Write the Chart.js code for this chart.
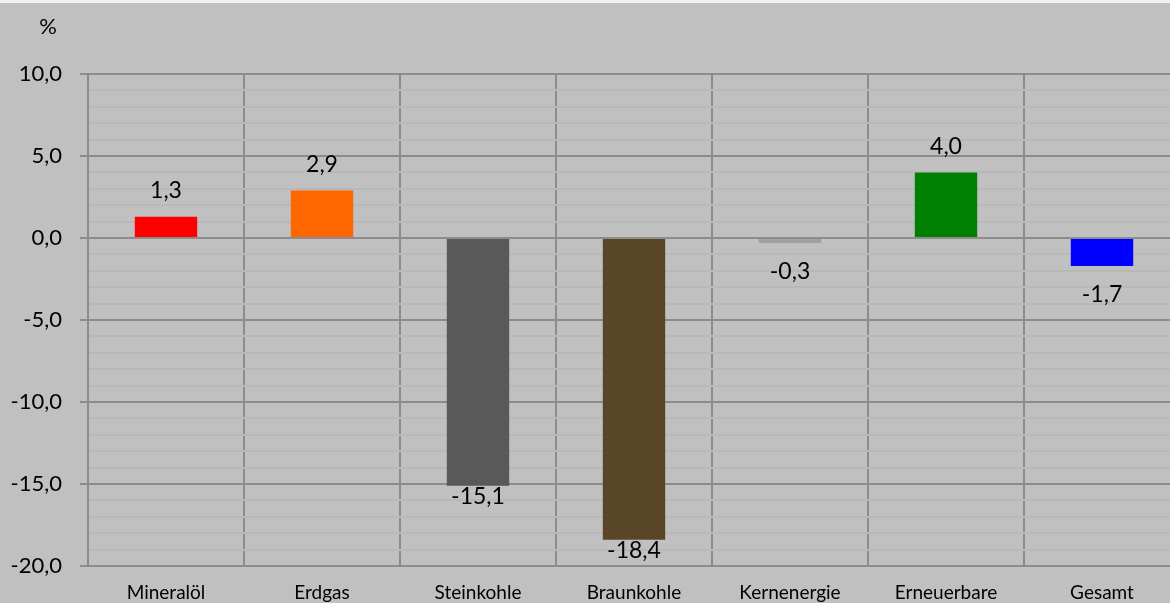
<!DOCTYPE html>
<html>
<head>
<meta charset="utf-8">
<script src="https://cdn.jsdelivr.net/npm/chart.js@4.4.0/dist/chart.umd.min.js"></script>
<style>
  html, body { margin: 0; padding: 0; overflow: hidden; background: #f2f2f2; }
  #wrap { position: absolute; left: 0; top: 3px; width: 1180px; height: 600px; }
</style>
</head>
<body>
<div id="wrap"><canvas id="myChart" width="1180" height="600"></canvas></div>
<script>
// Daten
const categories = ['Mineralöl', 'Erdgas', 'Steinkohle', 'Braunkohle', 'Kernenergie', 'Erneuerbare', 'Gesamt'];
const changes = [1.3, 2.9, -15.1, -18.4, -0.3, 4.0, -1.7];
const barColors = ['#ff0000', '#ff6600', '#595959', '#594628', '#a0a0a0', '#008000', '#0000ff'];
const yMin = -20;
const yMax = 10;

const fontFamily = 'Lato, "Open Sans", sans-serif';
const majorColor = '#8c8c8c';
const minorColor = '#b8b8b8';

function fmt(v) {
    return v.toFixed(1).replace('.', ',');
}

// Hintergrund + Einheit
const backgroundPlugin = {
    id: 'background',
    beforeDraw(chart) {
        const ctx = chart.ctx;
        ctx.save();
        ctx.fillStyle = '#c0c0c0';
        ctx.fillRect(0, 0, chart.width, chart.height);
        ctx.fillStyle = '#000';
        ctx.font = '22px ' + fontFamily;
        ctx.textAlign = 'center';
        ctx.textBaseline = 'middle';
        ctx.fillText('%', 48, 24);
        ctx.restore();
    }
};

// Werte an die Balken schreiben
const valueLabels = {
    id: 'valueLabels',
    afterDatasetsDraw(chart) {
        const ctx = chart.ctx;
        const meta = chart.getDatasetMeta(0);
        ctx.save();
        ctx.fillStyle = '#000';
        ctx.font = '23px ' + fontFamily;
        ctx.textAlign = 'center';
        ctx.textBaseline = 'middle';
        meta.data.forEach((bar, i) => {
            const v = changes[i];
            let y;
            if (v >= 0) {
                y = bar.y - 26;
            } else {
                const len = bar.y - bar.base;
                y = bar.y + (len > 200 ? 11 : 29);
            }
            ctx.fillText(fmt(v), bar.x, y);
        });
        ctx.restore();
    }
};

const ctx = document.getElementById('myChart').getContext('2d');
const chartInstance = new Chart(ctx, {
    type: 'bar',
    data: {
        labels: categories,
        datasets: [{
            data: changes,
            backgroundColor: barColors,
            borderWidth: 0,
            barPercentage: 0.4,
            categoryPercentage: 1.0
        }]
    },
    options: {
        responsive: false,
        devicePixelRatio: 1,
        animation: false,
        layout: { padding: { top: 71, left: 0, right: 0, bottom: 0 } },
        plugins: {
            legend: { display: false },
            tooltip: { enabled: false }
        },
        scales: {
            x: {
                afterFit(scale) { scale.height = 37; },
                grid: {
                    offset: true,
                    color: majorColor,
                    lineWidth: 2,
                    drawTicks: false
                },
                border: { display: false },
                ticks: {
                    color: '#000',
                    padding: 15,
                    font: { family: fontFamily, size: 19 },
                    maxRotation: 0
                }
            },
            y: {
                min: yMin,
                max: yMax,
                afterFit(scale) { scale.width = 88; },
                grid: {
                    color: c => (c.tick && c.tick.value % 5 === 0) ? majorColor : minorColor,
                    lineWidth: 2,
                    tickLength: 8,
                    tickColor: c => (c.tick && c.tick.value % 5 === 0) ? majorColor : 'rgba(0,0,0,0)'
                },
                border: { display: true, color: majorColor, width: 2 },
                ticks: {
                    stepSize: 1,
                    autoSkip: false,
                    padding: 18,
                    color: '#000',
                    font: { family: fontFamily, size: 22 },
                    callback: v => (v % 5 === 0) ? fmt(v) : ''
                }
            }
        }
    },
    plugins: [backgroundPlugin, valueLabels]
});
</script>
</body>
</html>
